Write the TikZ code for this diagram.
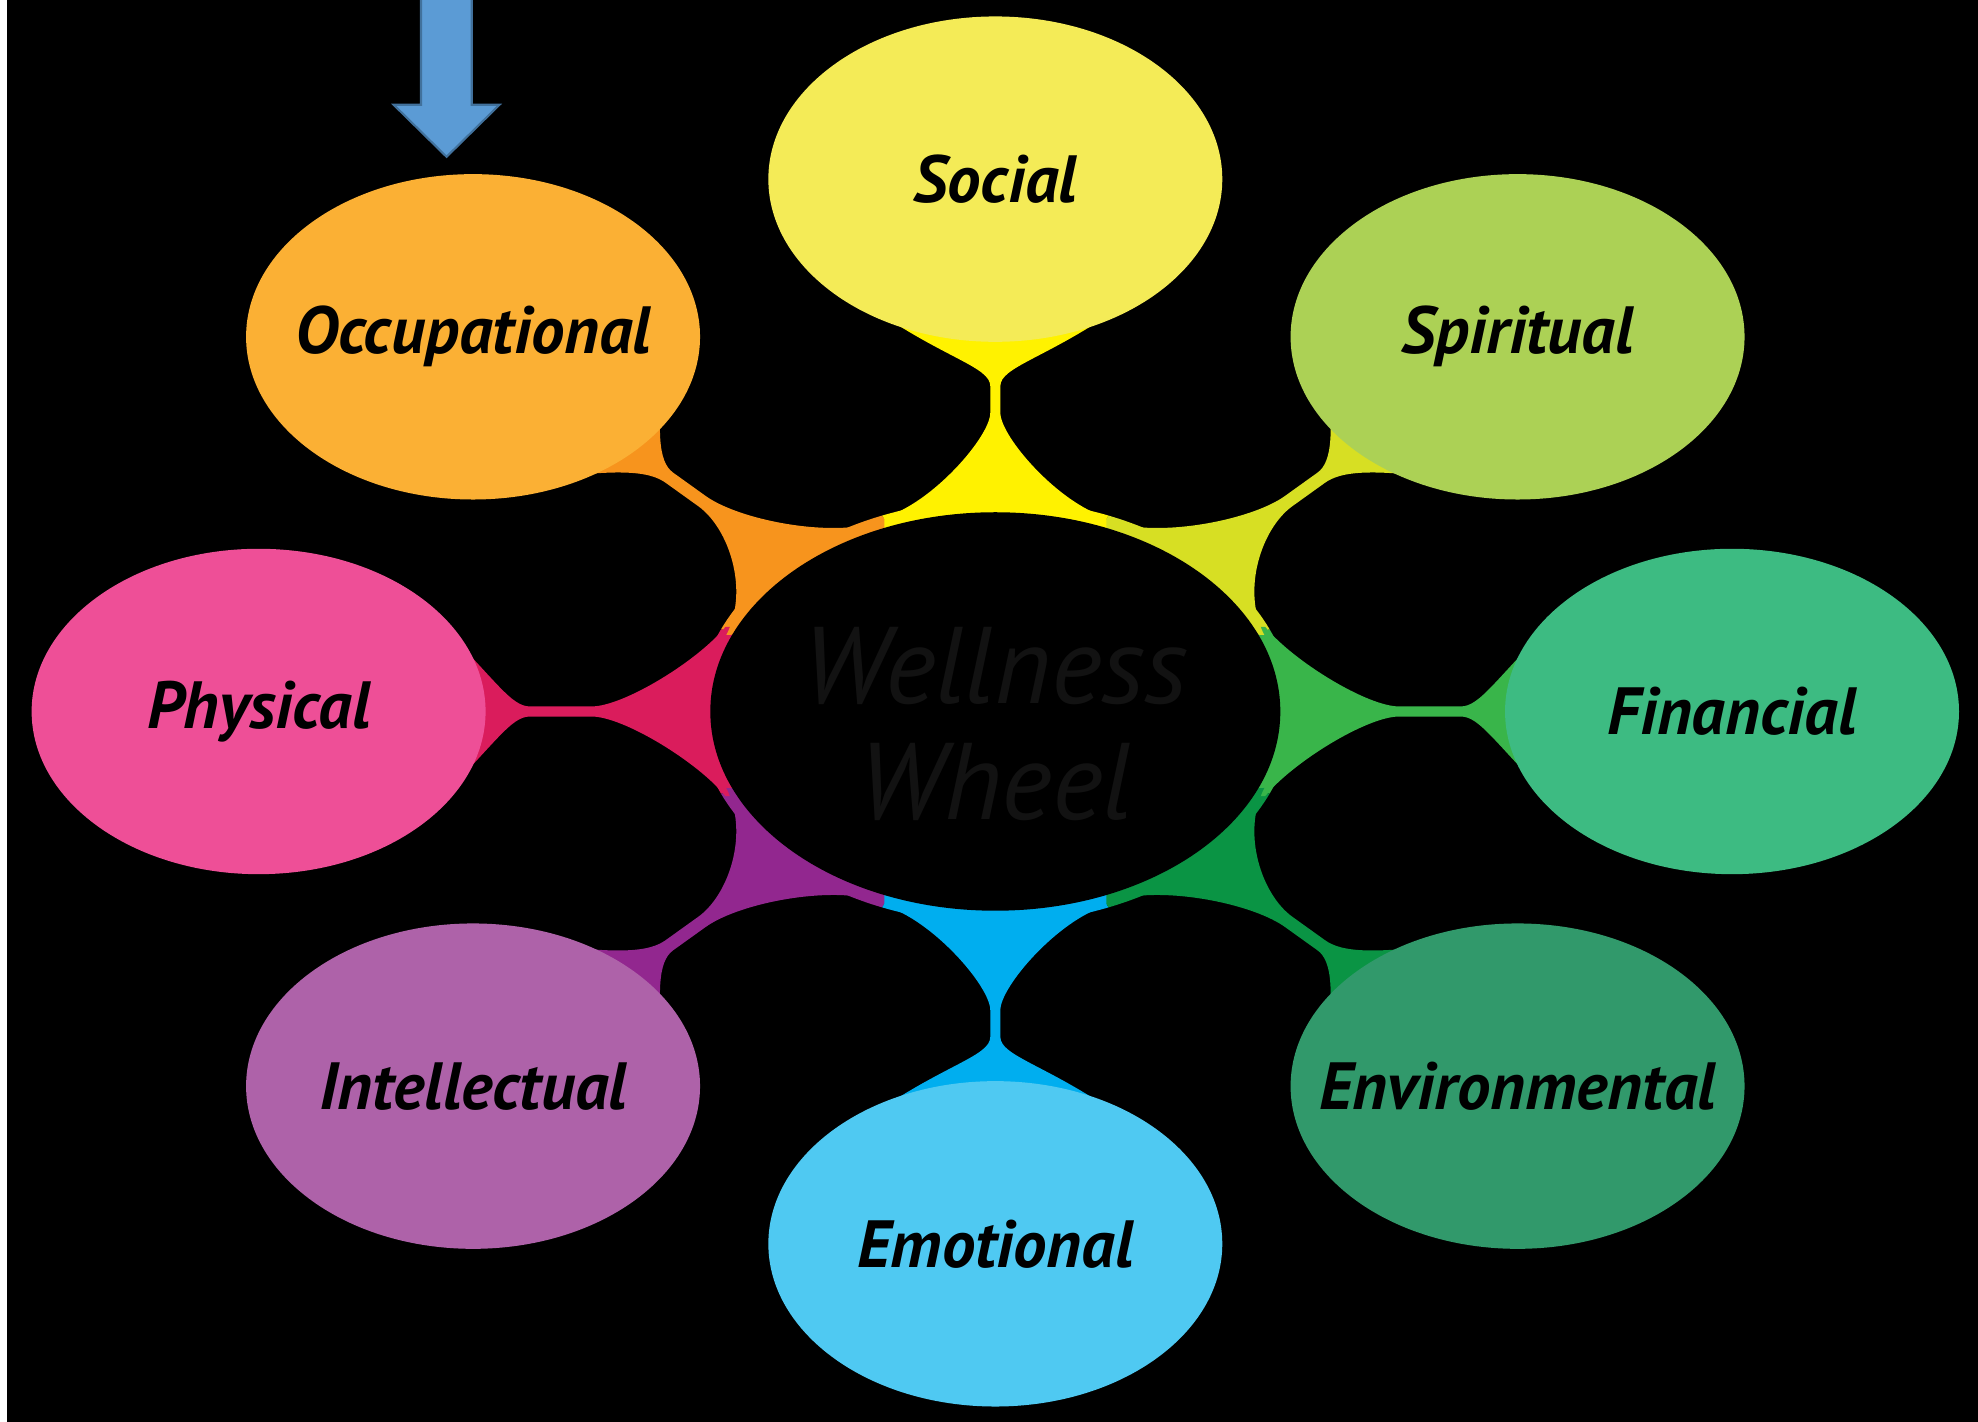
\documentclass[tikz,border=0pt]{standalone}
\usepackage{fontspec}
\newfontfamily\wheelfont{PT Sans}
\usetikzlibrary{shapes.geometric}
\definecolor{social}{HTML}{F4EB57}
\definecolor{socialLink}{HTML}{FFF200}
\definecolor{spiritual}{HTML}{ACD155}
\definecolor{spiritualLink}{HTML}{D7DF23}
\definecolor{financial}{HTML}{3DBB82}
\definecolor{financialLink}{HTML}{39B54A}
\definecolor{environmental}{HTML}{31996B}
\definecolor{environmentalLink}{HTML}{0A9444}
\definecolor{emotional}{HTML}{4FC9F2}
\definecolor{emotionalLink}{HTML}{00AEEF}
\definecolor{intellectual}{HTML}{AE62A9}
\definecolor{intellectualLink}{HTML}{92278F}
\definecolor{physical}{HTML}{EE4F97}
\definecolor{physicalLink}{HTML}{DA1C5C}
\definecolor{occupational}{HTML}{FBB034}
\definecolor{occupationalLink}{HTML}{F7941D}
\definecolor{cueblue}{HTML}{5B9BD5}
\definecolor{cueedge}{HTML}{41719C}
\pgfdeclarelayer{back}
\pgfdeclarelayer{links}
\pgfsetlayers{back,links,main}
\tikzset{
    %Define style for the petals
    petal/.style 2 args={
           ellipse,
           minimum width=4.541cm,
           minimum height=3.255cm,
           inner sep=0pt,
           fill=#1,
           label={[petal text]center:#2}},
    petal text/.style={
           font=\wheelfont\bfseries\itshape\fontsize{19}{22}\selectfont,
           text=black},
    %Define style for the hub
    hub/.style={
           ellipse,
           minimum width=5.702cm,
           minimum height=3.986cm,
           inner sep=0pt,
           fill=black},
    hub text/.style={
           font=\wheelfont\itshape\fontsize{31}{33}\selectfont,
           text=black!93!white,
           align=center}
}
\begin{document}
\begin{tikzpicture}[x=0.012615cm, y=0.012615cm]
\useasboundingbox (0,0) rectangle (1568,1127);
\begin{pgfonlayer}{back}
\fill[white] (0,0) rectangle (1568,1127);
\fill[black] (5.5,0) rectangle (1568,1127);
\end{pgfonlayer}
% hub and petals
\node[hub, label={[hub text, yshift=-0.13cm]center:{Wellness\\Wheel}}] (hub) at (789,563) {};
\node[petal={social}{Social}] (social) at (789,985) {};
\node[petal={spiritual}{Spiritual}] (spiritual) at (1203,860) {};
\node[petal={financial}{Financial}] (financial) at (1373,563) {};
\node[petal={environmental}{Environmental}] (environmental) at (1203,266) {};
\node[petal={emotional}{Emotional}] (emotional) at (789,141) {};
\node[petal={intellectual}{Intellectual}] (intellectual) at (375,266) {};
\node[petal={physical}{Physical}] (physical) at (205,563) {};
\node[petal={occupational}{Occupational}] (occupational) at (375,860) {};
\begin{pgfonlayer}{links}
% ring segments
\foreach \from/\to/\col in {-22.85/22.85/financialLink, 22.85/67.66/spiritualLink,
    67.66/112.34/socialLink, 112.34/157.15/occupationalLink, 157.15/202.85/physicalLink,
    202.85/247.66/intellectualLink, 247.66/292.34/emotionalLink, 292.34/337.15/environmentalLink}
  \fill[\col] (hub.center) -- ++(\from:2.977cm and 2.119cm)
    arc[start angle=\from, end angle=\to, x radius=2.977cm, y radius=2.119cm] -- cycle;
% necks
\foreach \ang/\col in {90/socialLink, 270/emotionalLink}
  \fill[\col, shift={(hub.center)}, rotate=\ang, shift={(168,0)}]
    (-14,88) .. controls (-3,50) and (50,4) .. (68.75,4) -- (90,4)
    .. controls (105,4) and (112,40) .. (150,95) -- (175,95) -- (175,-95) -- (150,-95)
    .. controls (112,-40) and (105,-4) .. (90,-4) -- (68.75,-4)
    .. controls (50,-4) and (-3,-50) .. (-14,-88) -- (-40,-88) -- (-40,88) -- cycle;
\foreach \ang/\col in {0/financialLink, 180/physicalLink}
  \fill[\col, shift={(hub.center)}, rotate=\ang, shift={(236,0)}]
    (-22,67) .. controls (0,40) and (58.8,4) .. (84,4) -- (133,4)
    .. controls (148,4) and (160,25) .. (205,70) -- (230,70) -- (230,-70) -- (205,-70)
    .. controls (160,-25) and (148,-4) .. (133,-4) -- (84,-4)
    .. controls (58.8,-4) and (0,-40) .. (-22,-67) -- (-50,-67) -- (-50,67) -- cycle;
\foreach \ang/\flip/\col in {35.65/1/spiritualLink, 144.35/-1/occupationalLink,
    215.65/1/intellectualLink, 324.35/-1/environmentalLink}
  \fill[\col, shift={(hub.center)}, rotate=\ang, yscale=\flip, shift={(204.6,0)}]
    (-33,58) .. controls (-5,30) and (52,5) .. (81.6,5) -- (113.3,5)
    .. controls (128.3,5) and (143.3,25) .. (168.3,70) -- (230,40) -- (230,-60) -- (210,-75)
    .. controls (150,-15) and (128.3,-5) .. (113.3,-5) -- (81.6,-5)
    .. controls (52,-5) and (10,-35) .. (4,-75) -- (-40,-40) -- (-40,40) -- cycle;
\end{pgfonlayer}
% arrow pointing at occupational
\coordinate (cue) at (354,1002.7);
\fill[cueblue, draw=cueedge, line width=0.6pt] (cue) -- ++(42,41.3) -- ++(-22,0) -- ++(0,90)
    -- ++(-40.3,0) -- ++(0,-90) -- ++(-21.7,0) -- cycle;
\end{tikzpicture}
\end{document}
